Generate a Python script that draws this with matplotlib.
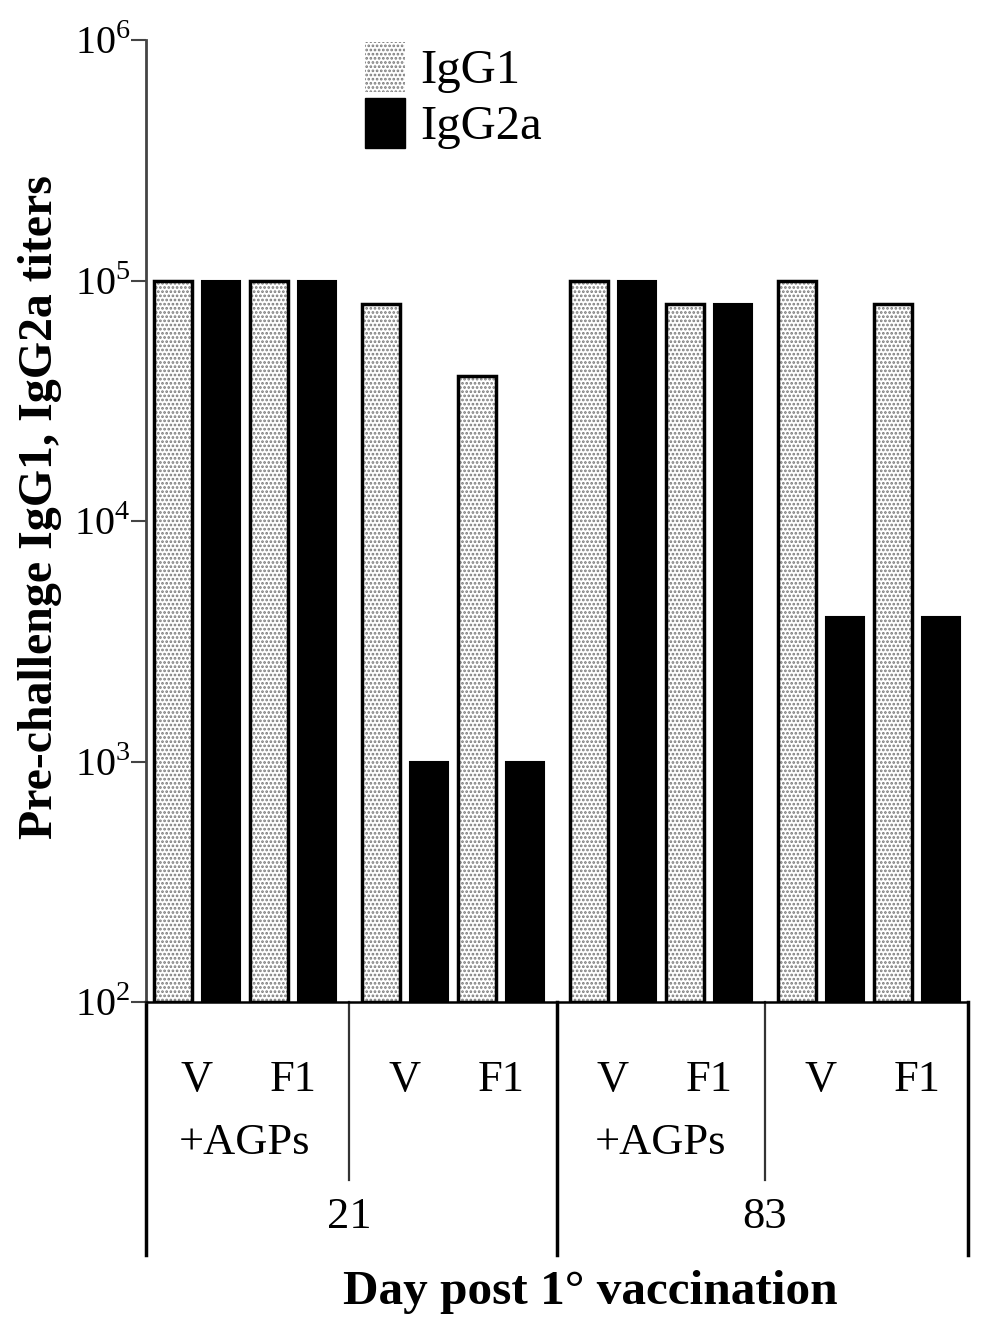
import numpy as np
import matplotlib
matplotlib.use('Agg')
import matplotlib.pyplot as plt
from matplotlib.patches import Patch
from matplotlib.transforms import blended_transform_factory

plt.rcParams['font.family'] = ['Liberation Serif', 'DejaVu Serif']
plt.rcParams['mathtext.fontset'] = 'custom'
plt.rcParams['mathtext.rm'] = 'Liberation Serif'
plt.rcParams['hatch.linewidth'] = 1.3

# ---- data ----
series = ['IgG1', 'IgG2a']
vaccines = ['V', 'F1', 'V', 'F1', 'V', 'F1', 'V', 'F1']
adjuvant = ['+AGPs', '', '+AGPs', '']
days = ['21', '83']
igg1 = [1e5, 1e5, 8e4, 4e4, 1e5, 8e4, 1e5, 8e4]
igg2a = [1e5, 1e5, 1e3, 1e3, 1e5, 8e4, 4e3, 4e3]

# ---- layout ----
base = 1e2
pitch = 1.0
group_pitch = 4.333
x0 = 0.56
width = 0.80
xmax = 17.12

fig = plt.figure(figsize=(9.84, 13.25), dpi=100)
ax = fig.add_axes([146/984, 1-1002/1325, 822/984, 962/1325])
ax.set_yscale('log')
ax.set_ylim(1e2, 1e6)
ax.set_xlim(0, xmax)

pair_centers = []
for i in range(len(vaccines)):
    g, k = divmod(i, 2)
    xa = x0 + g*group_pitch + k*2*pitch
    xb = xa + pitch
    pair_centers.append((xa + xb)/2)
    # IgG1 hatched
    ax.bar(xa, igg1[i] - base, width=width, bottom=base, color='white', hatch='....',
           edgecolor='#7a7a7a', linewidth=0, zorder=2)
    ax.bar(xa, igg1[i] - base, width=width, bottom=base, fill=False,
           edgecolor='black', linewidth=2.5, zorder=3)
    # IgG2a black
    ax.bar(xb, igg2a[i] - base, width=width, bottom=base, color='black',
           edgecolor='black', linewidth=1.5, zorder=3)

# spines & ticks
for s in ['top', 'right']:
    ax.spines[s].set_visible(False)
ax.spines['left'].set_color('#444444')
ax.spines['left'].set_linewidth(2)
ax.spines['bottom'].set_linewidth(1.8)
ax.set_yticks([1e2, 1e3, 1e4, 1e5, 1e6])
ax.set_yticklabels([r'$10^{2}$', r'$10^{3}$', r'$10^{4}$', r'$10^{5}$', r'$10^{6}$'])
ax.yaxis.set_minor_locator(matplotlib.ticker.NullLocator())
ax.tick_params(axis='y', length=11, width=1.5, labelsize=29, pad=0, color='#444444')
ax.set_xticks([])

ax.set_ylabel('Pre-challenge IgG1, IgG2a titers', fontsize=34.5, fontweight='bold')
ax.yaxis.set_label_coords(-0.102, 0.514)

# category table below axis
tr = blended_transform_factory(ax.transData, ax.transAxes)
group_bounds = [x0 + g*group_pitch + 3*pitch + (group_pitch - 3*pitch)/2 for g in range(3)]
tall = [0, group_bounds[1], xmax]
short = [group_bounds[0], group_bounds[2]]
for x in tall:
    ax.plot([x, x], [0, -0.263], transform=tr, color='black', lw=2.5, clip_on=False)
for x in short:
    ax.plot([x, x], [0, -0.185], transform=tr, color='#333333', lw=1.6, clip_on=False)

for i, lab in enumerate(vaccines):
    ax.text(pair_centers[i], -0.081, lab, transform=tr, ha='center', va='center', fontsize=32)
for g, lab in enumerate(adjuvant):
    if lab:
        gc = (pair_centers[2*g] + pair_centers[2*g+1]) / 2
        ax.text(gc, -0.1466, lab, transform=tr, ha='center', va='center', fontsize=32)
for d, lab in enumerate(days):
    ax.text(group_bounds[2*d], -0.2235, lab, transform=tr, ha='center', va='center', fontsize=32)

ax.text(0.54, -0.301, 'Day post 1° vaccination', transform=ax.transAxes, ha='center',
        va='center', fontsize=35.5, fontweight='bold')

# legend
handles = [Patch(facecolor='white', hatch='....', edgecolor='#7a7a7a', linewidth=0),
           Patch(facecolor='black', edgecolor='black')]
ax.legend(handles, series, loc='upper left', bbox_to_anchor=(0.266, 0.998), frameon=False,
          fontsize=35, handlelength=0.82, handleheight=1.2, labelspacing=0.1,
          handletextpad=0.33, borderpad=0, borderaxespad=0)

fig.savefig('out.png', dpi=100)
